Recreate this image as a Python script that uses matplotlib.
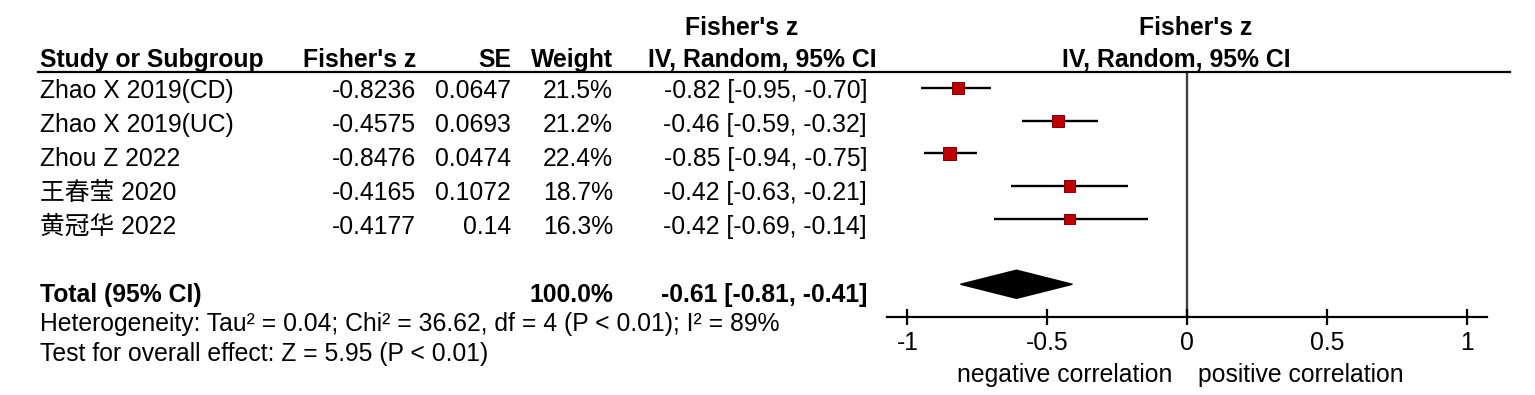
import numpy as np
import matplotlib
matplotlib.use("Agg")
import matplotlib.pyplot as plt
import matplotlib.transforms as mtransforms
from matplotlib.lines import Line2D

plt.rcParams.update({
    "font.family": ["Liberation Sans", "Noto Sans CJK SC"],
    "font.size": 17.8,
})

# study data
studies = ["Zhao X 2019(CD)", "Zhao X 2019(UC)", "Zhou Z 2022", "王春莹 2020", "黄冠华 2022"]
fisher_z = [-0.8236, -0.4575, -0.8476, -0.4165, -0.4177]
se = [0.0647, 0.0693, 0.0474, 0.1072, 0.14]
weight = [21.5, 21.2, 22.4, 18.7, 16.3]
est = [-0.82, -0.46, -0.85, -0.42, -0.42]
ci_lo = [-0.95, -0.59, -0.94, -0.63, -0.69]
ci_hi = [-0.70, -0.32, -0.75, -0.21, -0.14]

total_est, total_lo, total_hi = -0.61, -0.81, -0.41
total_weight = 100.0
het_text = "Heterogeneity: Tau² = 0.04; Chi² = 36.62, df = 4 (P < 0.01); I² = 89%"
test_text = "Test for overall effect: Z = 5.95 (P < 0.01)"
xticks = [-1, -0.5, 0, 0.5, 1]
xtick_labels = ["-1", "-0.5", "0", "0.5", "1"]

W, H = 1535, 395
fig = plt.figure(figsize=(W / 100, H / 100), dpi=100)


def px(x, y):
    return x / W, 1 - y / H


# forest panel: rows 0..4 studies, 6 total, axis at 7
ax = fig.add_axes([887 / W, 1 - 317 / H, 600 / W, 245 / H])
ax.set_xlim(-1.073, 1.073)
ax.set_ylim(7, -0.485)
for s in ["top", "left", "right"]:
    ax.spines[s].set_visible(False)
ax.spines["bottom"].set_linewidth(1.6)
ax.set_yticks([])
ax.set_xticks(xticks)
ax.set_xticklabels(xtick_labels)
ax.tick_params(axis="x", direction="inout", length=12, width=1.6, pad=4)
ax.patch.set_visible(False)

ax.axvline(0, color="#404040", lw=1.7, zorder=1)

rows = np.arange(len(studies))
ax.hlines(rows, ci_lo, ci_hi, color="black", lw=1.7, zorder=2)
# square side grows with weight (px -> pt)
sizes = [((5 + w * 0.33) * 0.72) ** 2 for w in weight]
ax.scatter(est, rows, s=sizes, marker="s", color="#c00000", edgecolor="#800000",
           linewidth=0.7, zorder=3)

# pooled diamond
dy = 0.43
ax.fill([total_lo, total_est, total_hi, total_est], [6, 6 - dy, 6, 6 + dy],
        color="black", zorder=3)

# header rule across the whole figure
fig.add_artist(Line2D([38 / W, 1510 / W], [1 - 72 / H] * 2, color="black", lw=1.6))

# column headers
bold = dict(fontweight="bold")
fig.text(*px(742, 35), "Fisher's z", ha="center", va="baseline", **bold)
fig.text(*px(1196, 35), "Fisher's z", ha="center", va="baseline", **bold)
fig.text(*px(40, 67), "Study or Subgroup", ha="left", va="baseline", **bold)
fig.text(*px(416, 67), "Fisher's z", ha="right", va="baseline", **bold)
fig.text(*px(511, 67), "SE", ha="right", va="baseline", **bold)
fig.text(*px(613, 67), "Weight", ha="right", va="baseline", **bold)
fig.text(*px(762, 67), "IV, Random, 95% CI", ha="center", va="baseline", **bold)
fig.text(*px(1176, 67), "IV, Random, 95% CI", ha="center", va="baseline", **bold)

# study rows aligned to the forest rows
tr = mtransforms.blended_transform_factory(fig.transFigure, ax.transData)
for i, name in enumerate(studies):
    yb = i + 0.3 + 0.04 * i
    fig.text(40 / W, yb, name, ha="left", va="baseline", transform=tr)
    fig.text(416 / W, yb, f"{fisher_z[i]:g}", ha="right", va="baseline", transform=tr)
    fig.text(511 / W, yb, f"{se[i]:g}", ha="right", va="baseline", transform=tr)
    fig.text(613 / W, yb, f"{weight[i]:.1f}%", ha="right", va="baseline", transform=tr)
    fig.text(867 / W, yb, f"{est[i]:.2f} [{ci_lo[i]:.2f}, {ci_hi[i]:.2f}]",
             ha="right", va="baseline", transform=tr)

# total and summary lines
fig.text(*px(40, 302), "Total (95% CI)", ha="left", va="baseline", **bold)
fig.text(*px(613, 302), f"{total_weight:.1f}%", ha="right", va="baseline", **bold)
fig.text(*px(867, 302), f"{total_est:.2f} [{total_lo:.2f}, {total_hi:.2f}]",
         ha="right", va="baseline", **bold)
fig.text(*px(40, 331), het_text, ha="left", va="baseline")
fig.text(*px(40, 361), test_text, ha="left", va="baseline")

# direction labels under the axis
tr2 = mtransforms.blended_transform_factory(ax.transData, fig.transFigure)
fig.text(-0.054, 1 - 382 / H, "negative correlation", ha="right", va="baseline", transform=tr2)
fig.text(0.039, 1 - 382 / H, "positive correlation", ha="left", va="baseline", transform=tr2)

fig.savefig("out.png", dpi=100)
